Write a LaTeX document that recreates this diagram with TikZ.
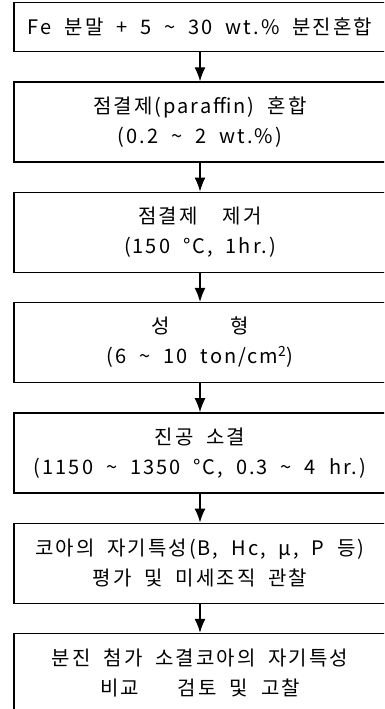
\documentclass[tikz,border=0pt]{standalone}
\usepackage{fontspec}
\setmainfont{Noto Sans CJK KR}[LetterSpace=10, WordSpace=2]
\usetikzlibrary{positioning, arrows.meta}

\begin{document}
\begin{tikzpicture}[
    x=1pt, y=1pt,
    node distance=29pt,
    base/.style={rectangle, draw, line width=1.3pt, align=center, anchor=north,
        font=\fontsize{20}{30}\selectfont, minimum width=372pt, inner sep=0pt},
    stepbox/.style={base, minimum height=80pt},
    firstbox/.style={base, minimum height=49pt},
    arrow/.style={-{Latex[length=14pt, width=11pt]}, line width=1.3pt}
]
    \useasboundingbox (0,0) rectangle (384,-709);
    \clip (0,0) rectangle (384,-709);

    % --- PROCESS STEPS ---
    \node (mixing) [firstbox] at (200,-2) {Fe 분말 + 5 \textasciitilde{} 30 wt.\% 분진혼합};
    \node (binder) [stepbox, below=of mixing] {점결제(paraffin) 혼합\\(0.2 \textasciitilde{} 2 wt.\%)};
    \node (debind) [stepbox, below=of binder] {점결제\hspace{0.6em} 제거\\(150 °C, 1hr.)};
    \node (press) [stepbox, below=of debind] {성\qquad\quad 형\\(6 \textasciitilde{} 10 ton/cm\textsuperscript{2})};
    \node (sinter) [stepbox, below=of press] {진공 소결\\(1150 \textasciitilde{} 1350 °C, 0.3 \textasciitilde{} 4 hr.)};
    \node (measure) [stepbox, below=of sinter] {코아의 자기특성(B, Hc, μ, P 등)\\평가 및 미세조직 관찰};
    \node (compare) [stepbox, below=of measure] {분진 첨가 소결코아의 자기특성\\비교\hspace{1.3em} 검토 및 고찰};

    % --- DRAW CONNECTIONS ---
    \draw [arrow] (mixing) -- (binder);
    \draw [arrow] (binder) -- (debind);
    \draw [arrow] (debind) -- (press);
    \draw [arrow] (press) -- (sinter);
    \draw [arrow] (sinter) -- (measure);
    \draw [arrow] (measure) -- (compare);

\end{tikzpicture}
\end{document}
